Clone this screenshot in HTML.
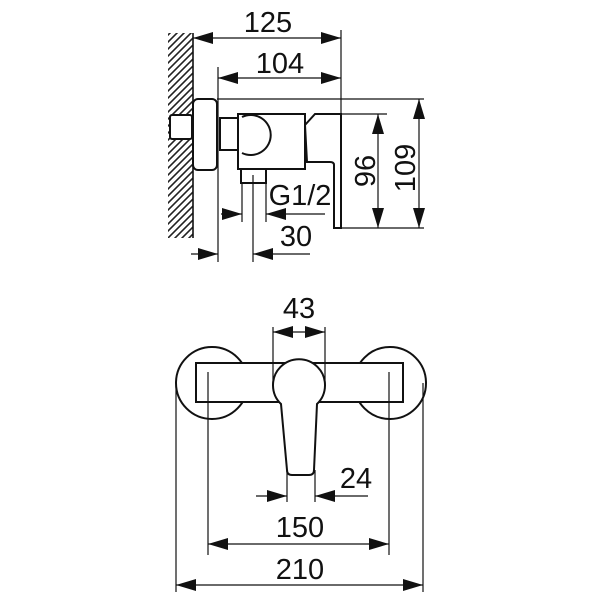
<!DOCTYPE html>
<html><head><style>body{margin:0;background:#fff}svg{display:block}text{font-family:"Liberation Sans",sans-serif;font-size:29px;fill:#111}</style></head>
<body>
<svg width="600" height="600" viewBox="0 0 600 600" xmlns="http://www.w3.org/2000/svg">
<defs>
<marker id="a" viewBox="0 0 20 12" refX="20" refY="6" markerWidth="20" markerHeight="12" markerUnits="userSpaceOnUse" orient="auto-start-reverse"><path d="M0,0L20,6L0,12z" fill="#111"/></marker>
<pattern id="h" width="7" height="7" patternUnits="userSpaceOnUse"><path d="M0,7L7,0M-2,2L2,-2M5,9L9,5" stroke="#222" stroke-width="1.6"/></pattern>
</defs>
<g stroke="#111" fill="none" stroke-width="1.2">
<rect x="168" y="33" width="25" height="205" fill="url(#h)" stroke="none"/>
<line x1="193" y1="33" x2="193" y2="238" stroke-width="1.6"/>
<line x1="193" y1="38" x2="341" y2="38" marker-start="url(#a)" marker-end="url(#a)"/>
<line x1="218" y1="78" x2="341" y2="78" marker-start="url(#a)" marker-end="url(#a)"/>
<line x1="341" y1="30" x2="341" y2="225"/>
<line x1="218" y1="67" x2="218" y2="262"/>
<g stroke-width="2" fill="#fff">
<rect x="170" y="115" width="22" height="24" rx="2"/>
<rect x="193" y="99" width="24" height="71" rx="5"/>
<rect x="220" y="118" width="18" height="32"/>
<rect x="241" y="169" width="25" height="14"/>
<path d="M238,114H305V169H238Z"/>
<path d="M242,117A20,20 0 1 1 242,153"/>
<path d="M305,125L315,114H341V228H334V165Q334,162 330,162H307Z"/>
</g>
<line x1="242" y1="183" x2="242" y2="222"/>
<line x1="266" y1="183" x2="266" y2="222"/>
<line x1="253" y1="175" x2="253" y2="262"/>
<line x1="221" y1="214" x2="242" y2="214" marker-end="url(#a)"/>
<line x1="325" y1="214" x2="266" y2="214" marker-end="url(#a)"/>
<line x1="191" y1="254" x2="218" y2="254" marker-end="url(#a)"/>
<line x1="310" y1="254" x2="253" y2="254" marker-end="url(#a)"/>
<line x1="217" y1="99" x2="424" y2="99"/>
<line x1="341" y1="114" x2="387" y2="114"/>
<line x1="341" y1="228" x2="424" y2="228"/>
<line x1="378" y1="114" x2="378" y2="228" marker-start="url(#a)" marker-end="url(#a)"/>
<line x1="419" y1="99" x2="419" y2="228" marker-start="url(#a)" marker-end="url(#a)"/>
<g stroke-width="2" fill="#fff">
<circle cx="212" cy="383" r="36"/>
<circle cx="390" cy="383" r="36"/>
<rect x="196" y="363" width="207" height="39"/>
<path d="M281,404A26,26 0 1 1 317,404L314,470Q314,475 309,475H292Q287,475 287,470Z"/>
</g>
<line x1="273" y1="327" x2="273" y2="385"/>
<line x1="325" y1="327" x2="325" y2="385"/>
<line x1="299" y1="332" x2="273" y2="332" marker-end="url(#a)"/>
<line x1="299" y1="332" x2="325" y2="332" marker-end="url(#a)"/>
<line x1="287" y1="470" x2="287" y2="502"/>
<line x1="315" y1="470" x2="315" y2="502"/>
<line x1="256" y1="496" x2="287" y2="496" marker-end="url(#a)"/>
<line x1="368" y1="496" x2="315" y2="496" marker-end="url(#a)"/>
<line x1="208" y1="372" x2="208" y2="555"/>
<line x1="389" y1="372" x2="389" y2="555"/>
<line x1="208" y1="544" x2="389" y2="544" marker-start="url(#a)" marker-end="url(#a)"/>
<line x1="176" y1="383" x2="176" y2="592"/>
<line x1="423" y1="383" x2="423" y2="592"/>
<line x1="176" y1="585" x2="423" y2="585" marker-start="url(#a)" marker-end="url(#a)"/>
</g>
<text x="268" y="32" text-anchor="middle">125</text>
<text x="280" y="73" text-anchor="middle">104</text>
<text x="300" y="205" text-anchor="middle">G1/2</text>
<text x="296" y="246" text-anchor="middle">30</text>
<text transform="translate(375,171) rotate(-90)" text-anchor="middle">96</text>
<text transform="translate(415,168) rotate(-90)" text-anchor="middle">109</text>
<text x="299" y="318" text-anchor="middle">43</text>
<text x="356" y="488" text-anchor="middle">24</text>
<text x="300" y="537" text-anchor="middle">150</text>
<text x="300" y="579" text-anchor="middle">210</text>
</svg>
</body></html>
